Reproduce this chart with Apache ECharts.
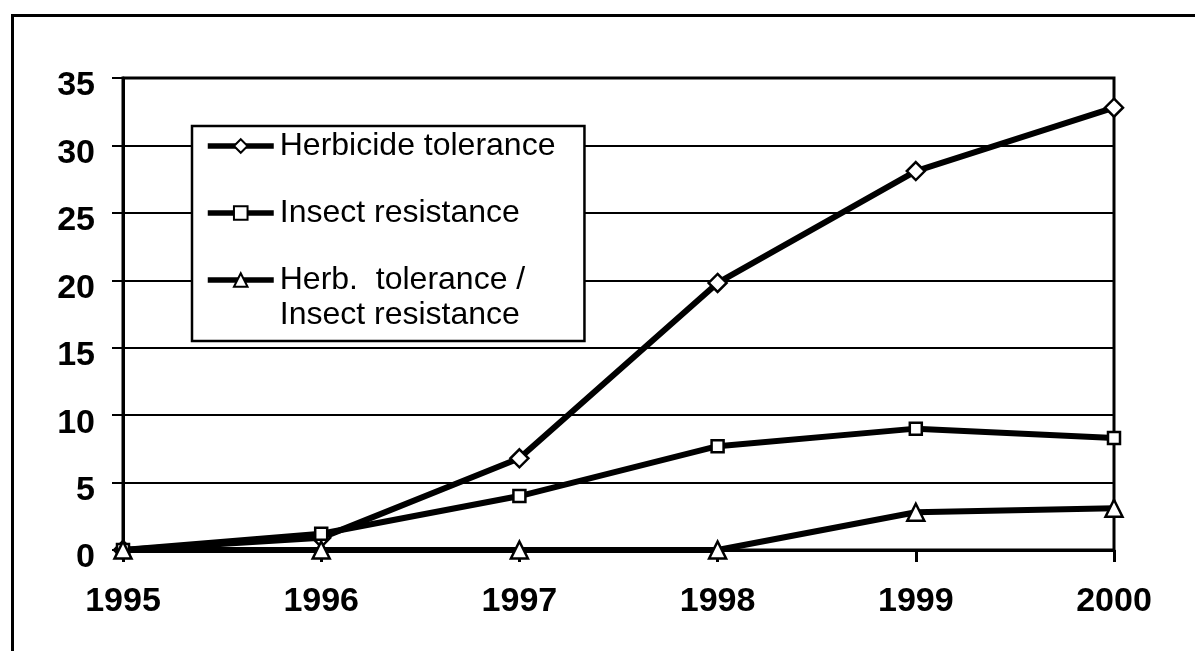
<!DOCTYPE html>
<html>
<head>
<meta charset="utf-8">
<script src="https://cdn.jsdelivr.net/npm/echarts@6/dist/echarts.min.js"></script>
<style>
  html, body { margin: 0; padding: 0; background: #fff; }
  #chart { width: 1195px; height: 651px; }
</style>
</head>
<body>
<div id="chart"></div>
<script>
var years = ["1995", "1996", "1997", "1998", "1999", "2000"];
var herbicide = [0, 0.9, 6.8, 19.8, 28.1, 32.8];
var insect = [0, 1.2, 4.0, 7.7, 9.0, 8.3];
var herbInsect = [0, 0, 0, 0, 2.8, 3.1];
var seriesNames = ["Herbicide tolerance", "Insect resistance", "Herb.  tolerance /\nInsect resistance"];
var yTicks = { min: 0, max: 35, interval: 5 };

var font = "Liberation Sans, Arial, sans-serif";
var chart = echarts.init(document.getElementById("chart"));

function lineSeries(name, data, symbol, size) {
  return {
    name: name,
    type: "line",
    data: data,
    symbol: symbol,
    symbolSize: size,
    showAllSymbol: true,
    lineStyle: { color: "#000", width: 6 },
    itemStyle: { color: "#fff", borderColor: "#000", borderWidth: 2.5 },
    emphasis: { disabled: true },
    animation: false
  };
}

var option = {
  backgroundColor: "#fff",
  graphic: [
    {
      type: "rect",
      left: 10,
      top: 13,
      shape: { width: 1300, height: 900 },
      style: { fill: "none", stroke: "#000", lineWidth: 3 },
      z: -1
    }
  ],
  grid: {
    left: 123,
    right: 81,
    top: 78,
    bottom: 101,
    show: true,
    borderColor: "#000",
    borderWidth: 3
  },
  legend: {
    orient: "vertical",
    left: 192,
    top: 126,
    padding: [4, 29, 10, 13],
    itemGap: 35,
    itemWidth: 66,
    itemHeight: 17,
    backgroundColor: "#fff",
    borderColor: "#000",
    borderWidth: 2.5,
    borderRadius: 0,
    lineStyle: { width: 5.5 },
    itemStyle: { borderWidth: 2 },
    formatter: function (name) {
      return name.split("\n").map(function (s) { return "{a|" + s + "}"; }).join("\n");
    },
    textStyle: {
      padding: [0, 0, 0, 1],
      rich: { a: { fontFamily: font, fontSize: 32, color: "#000", lineHeight: 35 } }
    },
    data: [
      { name: seriesNames[0] },
      { name: seriesNames[1] },
      { name: seriesNames[2], textStyle: { padding: [35, 0, 0, 1] } }
    ]
  },
  xAxis: {
    type: "category",
    data: years,
    boundaryGap: false,
    axisLine: { lineStyle: { color: "#000", width: 3 } },
    axisTick: { show: true, length: 12, alignWithLabel: true, lineStyle: { color: "#000", width: 3 } },
    axisLabel: { color: "#000", fontFamily: font, fontSize: 34, fontWeight: "bold", margin: 35 },
    splitLine: { show: false }
  },
  yAxis: {
    type: "value",
    min: yTicks.min,
    max: yTicks.max,
    interval: yTicks.interval,
    axisLine: { show: true, lineStyle: { color: "#000", width: 3 } },
    axisTick: { show: true, length: 11, lineStyle: { color: "#000", width: 2 } },
    axisLabel: {
      margin: 28,
      formatter: "{v|{value}}",
      rich: { v: { color: "#000", fontFamily: font, fontSize: 34, fontWeight: "bold", padding: [16, 0, 0, 0] } }
    },
    splitLine: { show: true, lineStyle: { color: "#000", width: 2 } }
  },
  series: [
    lineSeries(seriesNames[0], herbicide, "diamond", 18),
    lineSeries(seriesNames[1], insect, "rect", 12),
    lineSeries(seriesNames[2], herbInsect, "triangle", 17)
  ]
};

chart.setOption(option);
</script>
</body>
</html>
